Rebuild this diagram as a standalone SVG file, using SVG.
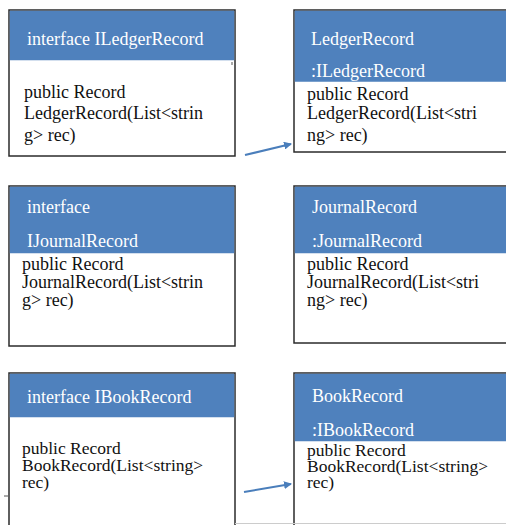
<svg xmlns="http://www.w3.org/2000/svg" width="506" height="525" viewBox="0 0 506 525">
  <defs>
    <style>
      .box { fill: #ffffff; stroke: #2b2b2b; stroke-width: 1.5; }
      .head { fill: #4f81bd; }
      .ht { font-family: "Liberation Serif", "Times New Roman", serif; font-size: 18px; fill: #ffffff; }
      .bt { font-family: "Liberation Serif", "Times New Roman", serif; font-size: 18px; fill: #111111; }
      .bt.tight { font-size: 17.5px; }
      .conn { stroke: #4a7ebb; stroke-width: 2; fill: none; }
    </style>
    <marker id="arrow" markerWidth="8" markerHeight="8" refX="7" refY="4" orient="auto" markerUnits="userSpaceOnUse" viewBox="0 0 8 8">
      <path d="M0,0 L8,4 L0,8 z" fill="#4a7ebb"/>
    </marker>
  </defs>
  <rect width="506" height="525" fill="#ffffff"/>

  <!-- ILedgerRecord interface -->
  <g id="ILedgerRecord">
    <rect class="box" x="9" y="10" width="226" height="146"/>
    <rect class="head" x="9.75" y="10.75" width="224.5" height="49.5"/>
    <text class="ht" x="27" y="45">interface ILedgerRecord</text>
    <text class="bt" x="24" y="98">public Record</text>
    <text class="bt" x="24" y="119">LedgerRecord(List&lt;strin</text>
    <text class="bt" x="24" y="141">g&gt; rec)</text>
    <line x1="232" y1="62" x2="232" y2="65" stroke="#555" stroke-width="1"/>
  </g>

  <!-- LedgerRecord class -->
  <g id="LedgerRecord">
    <rect class="box" x="294" y="10" width="214" height="142"/>
    <rect class="head" x="294.75" y="10.75" width="212" height="71"/>
    <text class="ht" x="311" y="45">LedgerRecord</text>
    <text class="ht" x="311" y="77">:ILedgerRecord</text>
    <text class="bt" x="307" y="100">public Record</text>
    <text class="bt" x="307" y="119">LedgerRecord(List&lt;stri</text>
    <text class="bt" x="307" y="141">ng&gt; rec)</text>
  </g>

  <!-- IJournalRecord interface -->
  <g id="IJournalRecord">
    <rect class="box" x="9" y="186" width="226" height="160"/>
    <rect class="head" x="9.75" y="186.75" width="224.5" height="66.5"/>
    <text class="ht" x="27" y="213">interface</text>
    <text class="ht" x="27" y="247">IJournalRecord</text>
    <text class="bt" x="22" y="270">public Record</text>
    <text class="bt" x="22" y="288">JournalRecord(List&lt;strin</text>
    <text class="bt" x="22" y="306">g&gt; rec)</text>
  </g>

  <!-- JournalRecord class -->
  <g id="JournalRecord">
    <rect class="box" x="294" y="186" width="214" height="157"/>
    <rect class="head" x="294.75" y="186.75" width="212" height="66.5"/>
    <text class="ht" x="312" y="213">JournalRecord</text>
    <text class="ht" x="312" y="247">:JournalRecord</text>
    <text class="bt" x="307" y="270">public Record</text>
    <text class="bt" x="307" y="288">JournalRecord(List&lt;stri</text>
    <text class="bt" x="307" y="306">ng&gt; rec)</text>
  </g>

  <!-- IBookRecord interface -->
  <g id="IBookRecord">
    <rect class="box" x="9" y="373" width="226" height="160"/>
    <rect class="head" x="9.75" y="373.75" width="224.5" height="43.5"/>
    <text class="ht" x="27" y="403">interface IBookRecord</text>
    <text class="bt tight" x="22" y="454">public Record</text>
    <text class="bt tight" x="22" y="471">BookRecord(List&lt;string&gt;</text>
    <text class="bt tight" x="22" y="488">rec)</text>
    <line x1="4" y1="496" x2="8" y2="496" stroke="#555" stroke-width="1"/>
  </g>

  <!-- BookRecord class -->
  <g id="BookRecord">
    <rect class="box" x="294" y="373" width="214" height="160"/>
    <rect class="head" x="294.75" y="373.75" width="212" height="67.5"/>
    <text class="ht" x="312" y="402">BookRecord</text>
    <text class="ht" x="312" y="436">:IBookRecord</text>
    <text class="bt tight" x="307" y="456">public Record</text>
    <text class="bt tight" x="307" y="472">BookRecord(List&lt;string&gt;</text>
    <text class="bt tight" x="307" y="488">rec)</text>
  </g>

  <line x1="235" y1="523.5" x2="506" y2="523.5" stroke="#cccccc" stroke-width="1"/>

  <!-- realisation connectors -->
  <g id="connectors">
    <line class="conn" x1="245" y1="155" x2="291" y2="144" marker-end="url(#arrow)"/>
    <line class="conn" x1="244" y1="492" x2="291" y2="484" marker-end="url(#arrow)"/>
  </g>
</svg>
